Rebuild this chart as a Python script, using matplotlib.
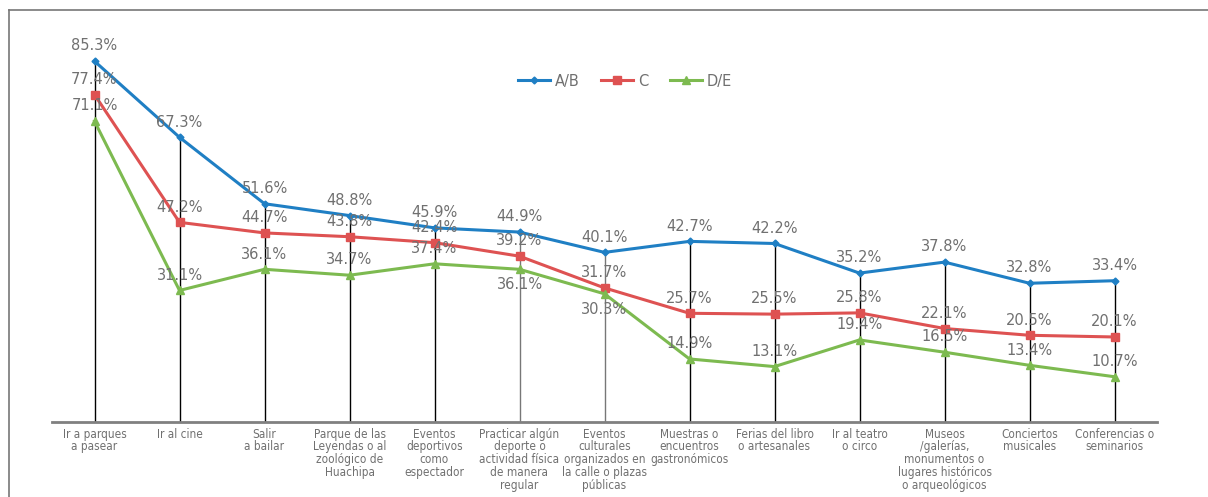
import matplotlib
matplotlib.use("Agg")
import matplotlib.pyplot as plt
from matplotlib.lines import Line2D

categories = [
    "Ir a parques\na pasear",
    "Ir al cine",
    "Salir\na bailar",
    "Parque de las\nLeyendas o al\nzoológico de\nHuachipa",
    "Eventos\ndeportivos\ncomo\nespectador",
    "Practicar algún\ndeporte o\nactividad física\nde manera\nregular",
    "Eventos\nculturales\norganizados en\nla calle o plazas\npúblicas",
    "Muestras o\nencuentros\ngastronómicos",
    "Ferias del libro\no artesanales",
    "Ir al teatro\no circo",
    "Museos\n/galerías,\nmonumentos o\nlugares históricos\no arqueológicos",
    "Conciertos\nmusicales",
    "Conferencias o\nseminarios",
]
ab = [85.3, 67.3, 51.6, 48.8, 45.9, 44.9, 40.1, 42.7, 42.2, 35.2, 37.8, 32.8, 33.4]
c = [77.4, 47.2, 44.7, 43.8, 42.4, 39.2, 31.7, 25.7, 25.5, 25.8, 22.1, 20.5, 20.1]
de = [71.1, 31.1, 36.1, 34.7, 37.4, 36.1, 30.3, 14.9, 13.1, 19.4, 16.5, 13.4, 10.7]
# D/E labels drawn under the point for these categories
de_below = [5, 6]

blue = "#1F7FC4"
red = "#DE5252"
green = "#7DBA50"
grey_txt = "#707070"

fig = plt.figure(figsize=(12.08, 4.97), dpi=100)
ax = fig.add_axes([52 / 1208, 1 - 422 / 497, (1157 - 52) / 1208, (422 - 10) / 497])

x = list(range(len(categories)))

# drop lines from the axis to the top value
drop_colors = ["black"] * len(x)
drop_colors[5] = "#777777"
drop_colors[6] = "#777777"
ax.vlines(x, 0, ab, colors=drop_colors, lw=1, zorder=1)

ax.plot(x, ab, color=blue, lw=2.2, marker="D", ms=3.5, label="A/B", zorder=3)
ax.plot(x, c, color=red, lw=2.2, marker="s", ms=5.5, label="C", zorder=3)
ax.plot(x, de, color=green, lw=2.2, marker="^", ms=5.5, label="D/E", zorder=3)

lab_kw = dict(ha="center", va="center", color=grey_txt, fontsize=10.5, zorder=4)
for i in x:
    ax.annotate(f"{ab[i]:.1f}%", (i, ab[i]), xytext=(0, 11), textcoords="offset points", **lab_kw)
    ax.annotate(f"{c[i]:.1f}%", (i, c[i]), xytext=(0, 11), textcoords="offset points", **lab_kw)
    dy = -11 if i in de_below else 11
    ax.annotate(f"{de[i]:.1f}%", (i, de[i]), xytext=(0, dy), textcoords="offset points", **lab_kw)

ax.set_xlim(-0.5, len(x) - 0.5)
ax.set_ylim(0, 97.4)
ax.set_xticks(x)
ax.set_xticklabels(categories, fontsize=8.5, color=grey_txt, linespacing=0.98,
                   fontstretch="condensed")
ax.tick_params(axis="x", length=0, pad=4)
ax.set_yticks([])
for s in ["top", "right", "left"]:
    ax.spines[s].set_visible(False)
ax.spines["bottom"].set_color("#808080")
ax.spines["bottom"].set_linewidth(2)

leg = ax.legend(loc="center", bbox_to_anchor=(625 / 1208, 1 - 81 / 497),
                bbox_transform=fig.transFigure, ncol=3, frameon=False,
                fontsize=10.5, handlelength=2.2, columnspacing=1.5, handletextpad=0.3)
for t in leg.get_texts():
    t.set_color(grey_txt)

# outer frame (top and left only)
fig.add_artist(Line2D([9 / 1208, 1], [1 - 10 / 497, 1 - 10 / 497], color="#777777", lw=1.2))
fig.add_artist(Line2D([9 / 1208, 9 / 1208], [0, 1 - 10 / 497], color="#777777", lw=1.2))

fig.savefig("out.png", dpi=100)
